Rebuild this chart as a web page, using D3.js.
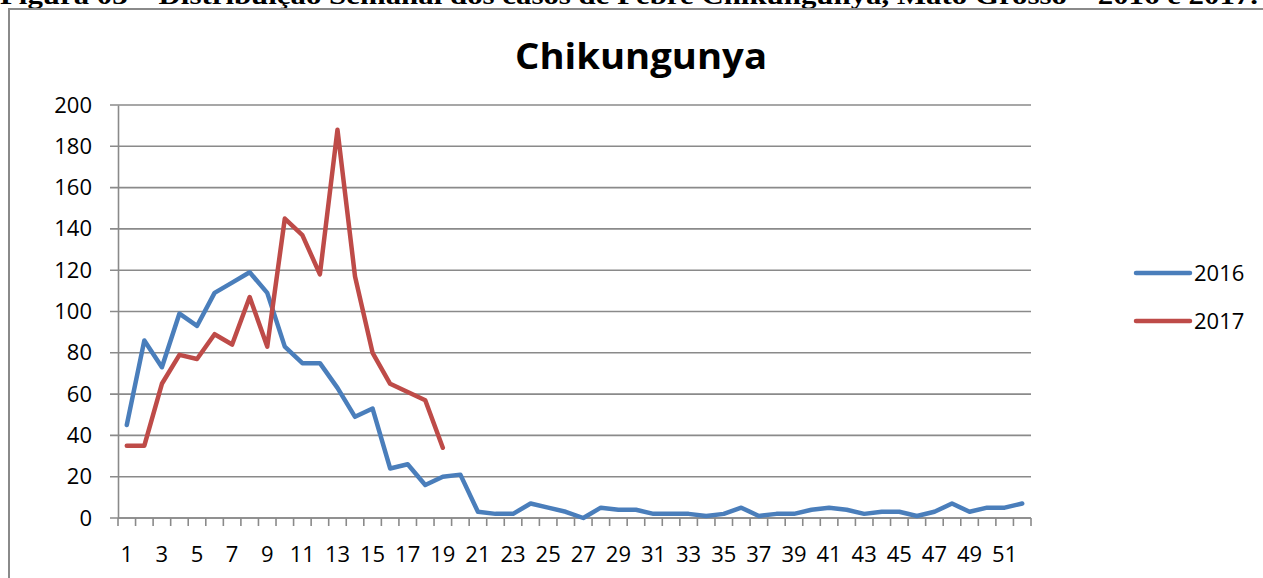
<!DOCTYPE html>
<html>
<head>
<meta charset="utf-8">
<script src="https://cdn.jsdelivr.net/npm/d3@7"></script>
<style>
  html, body { margin: 0; padding: 0; background: #fff; overflow: hidden; }
  text { font-family: "Open Sans", "Noto Sans", sans-serif; fill: #000; }
</style>
</head>
<body>
<script>
// weekly cases (semana epidemiológica)
const weeks = d3.range(1, 53);
const cases2016 = [45, 86, 73, 99, 93, 109, 114, 119, 109, 83,
                   75, 75, 63, 49, 53, 24, 26, 16, 20, 21,
                   3, 2, 2, 7, 5, 3, 0, 5, 4, 4,
                   2, 2, 2, 1, 2, 5, 1, 2, 2, 4,
                   5, 4, 2, 3, 3, 1, 3, 7, 3, 5,
                   5, 7];
const cases2017 = [35, 35, 65, 79, 77, 89, 84, 107, 83, 145,
                   137, 118, 188, 117, 80, 65, 61, 57, 34];
const yTicks = [0, 20, 40, 60, 80, 100, 120, 140, 160, 180, 200];
const xLabels = weeks.filter(w => w % 2 === 1);
const seriesNames = ["2016", "2017"];
const seriesColors = ["#4a7ebb", "#be4b48"];

(function() {
var W = 1263, H = 578;
var pLeft = 118, pRight = 1031, pTop = 105, pBottom = 518;
var grey = "#8a8a8a";

var svg = d3.select("body").append("svg")
    .attr("width", W).attr("height", H);

// caption of the figure, cut at the top of the picture
svg.append("text")
    .attr("x", 0).attr("y", 4)
    .attr("textLength", 1258).attr("lengthAdjust", "spacingAndGlyphs")
    .style("font-family", "'Liberation Serif', 'DejaVu Serif', serif")
    .style("font-weight", "bold").style("font-size", "26px")
    .text("Figura 03 – Distribuição Semanal dos casos de Febre Chikungunya, Mato Grosso – 2016 e 2017.");

// chart frame
svg.append("rect")
    .attr("x", 9).attr("y", 9).attr("width", 1300).attr("height", 600)
    .attr("fill", "none").attr("stroke", grey).attr("stroke-width", 2);

var x = d3.scaleBand().domain(weeks).range([pLeft, pRight]);
var y = d3.scaleLinear().domain([0, 200]).range([pBottom, pTop]);

// grid
svg.append("g").selectAll("line").data(yTicks).enter().append("line")
    .attr("x1", pLeft - 8).attr("x2", pRight)
    .attr("y1", d => y(d)).attr("y2", d => y(d))
    .attr("stroke", grey).attr("stroke-width", 1.6);

// y axis
var yAxis = svg.append("g").attr("transform", "translate(" + pLeft + ",0)")
    .call(d3.axisLeft(y).tickValues(yTicks).tickSize(0).tickPadding(26));
yAxis.select(".domain").attr("stroke", grey).attr("stroke-width", 1.6);
yAxis.selectAll("text").style("font-size", "22px");

// x axis: ticks on the band edges, labels on odd weeks
var xg = svg.append("g");
var edges = weeks.map(w => x(w)).concat([pRight]);
xg.selectAll("line").data(edges).enter().append("line")
    .attr("x1", d => d).attr("x2", d => d)
    .attr("y1", pBottom).attr("y2", pBottom + 8)
    .attr("stroke", grey).attr("stroke-width", 1.6);
xg.append("line").attr("x1", pLeft).attr("x2", pRight)
    .attr("y1", pBottom).attr("y2", pBottom)
    .attr("stroke", grey).attr("stroke-width", 1.6);
xg.selectAll("text").data(xLabels).enter().append("text")
    .attr("x", d => x(d) + x.bandwidth() / 2)
    .attr("y", pBottom + 44)
    .attr("text-anchor", "middle")
    .style("font-size", "22px")
    .text(d => d);

// title
svg.append("text")
    .attr("x", 641).attr("y", 69)
    .attr("text-anchor", "middle")
    .attr("textLength", 252).attr("lengthAdjust", "spacingAndGlyphs")
    .style("font-size", "35px").style("font-weight", "bold")
    .text("Chikungunya");

// lines
var line = d3.line()
    .x((d, i) => x(weeks[i]) + x.bandwidth() / 2)
    .y(d => y(d));

[cases2016, cases2017].forEach(function(series, k) {
    svg.append("path")
        .datum(series)
        .attr("d", line)
        .attr("fill", "none")
        .attr("stroke", seriesColors[k])
        .attr("stroke-width", 4.5)
        .attr("stroke-linejoin", "round")
        .attr("stroke-linecap", "round");
});

// legend
var lg = svg.append("g").selectAll("g").data(seriesNames).enter().append("g")
    .attr("transform", (d, i) => "translate(0," + (273 + i * 48) + ")");
lg.append("line")
    .attr("x1", 1136).attr("x2", 1190).attr("y1", 0).attr("y2", 0)
    .attr("stroke", (d, i) => seriesColors[i])
    .attr("stroke-width", 4.5).attr("stroke-linecap", "round");
lg.append("text")
    .attr("x", 1194).attr("y", 8)
    .style("font-size", "22px")
    .text(d => d);
})();
</script>
</body>
</html>
